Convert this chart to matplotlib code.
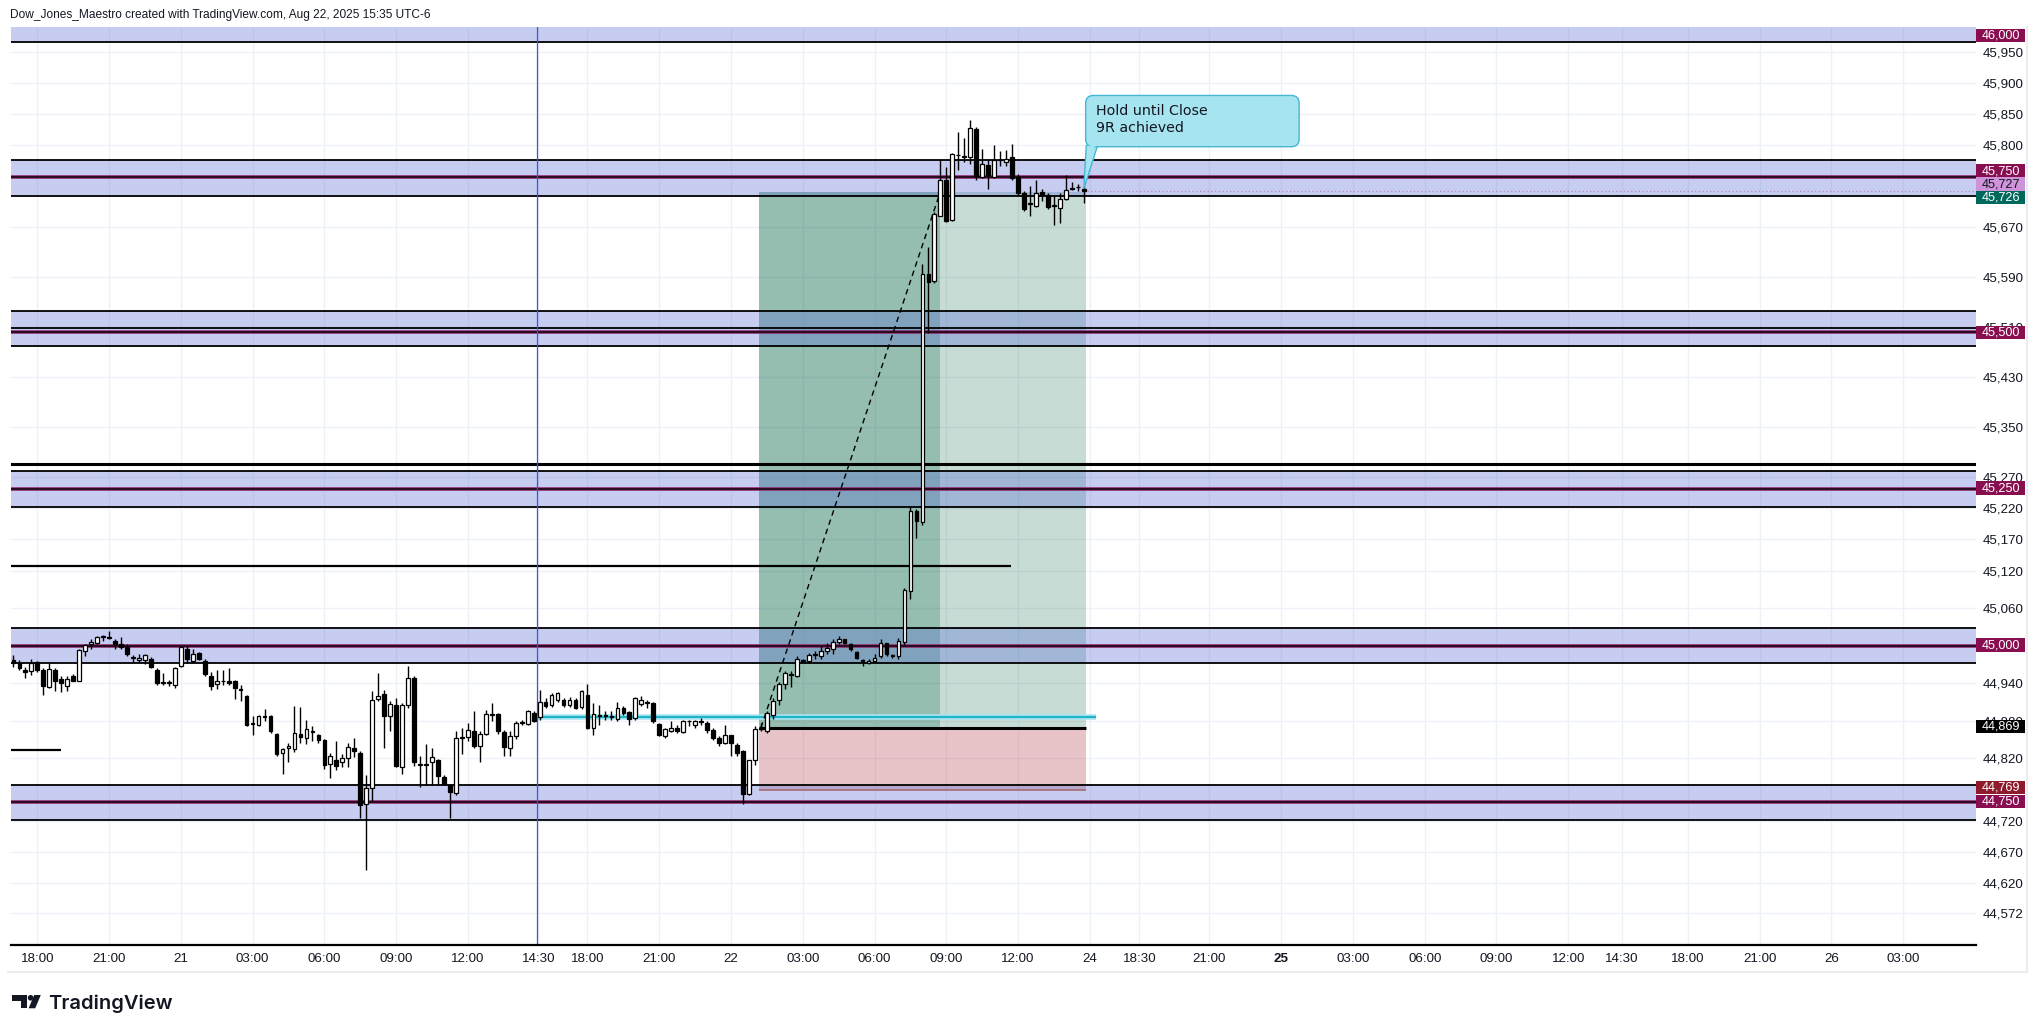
import matplotlib
matplotlib.use("Agg")
import matplotlib.pyplot as plt
import matplotlib.transforms as mtransforms
from matplotlib.patches import Rectangle, Polygon, FancyBboxPatch, Circle
import numpy as np

# ---------------- data (15-min YM candles, bar index 0 = Aug 20 17:00) ----------------
opens = [44977, 44973, 44961, 44959, 44974, 44961, 44934, 44961, 44947, 44935,
         44951, 44944, 44992, 45002, 45005, 45014, 45014, 45007, 45002, 44998,
         44980, 44977, 44977, 44979, 44961, 44940, 44940, 44937, 44968, 44995,
         44976, 44989, 44976, 44952, 44939, 44943, 44944, 44943, 44930, 44920,
         44875, 44873, 44886, 44887, 44859, 44828, 44837, 44835, 44859, 44853,
         44862, 44857, 44849, 44811, 44817, 44814, 44821, 44836, 44829, 44747,
         44773, 44915, 44923, 44887, 44906, 44806, 44905, 44949, 44810, 44811,
         44814, 44817, 44790, 44777, 44765, 44853, 44854, 44864, 44839, 44859,
         44890, 44891, 44862, 44836, 44856, 44877, 44875, 44893, 44886, 44910,
         44905, 44913, 44913, 44905, 44913, 44902, 44921, 44869, 44889, 44890,
         44887, 44883, 44900, 44894, 44884, 44907, 44909, 44909, 44875, 44856,
         44863, 44868, 44862, 44879, 44874, 44878, 44876, 44866, 44853, 44845,
         44857, 44842, 44832, 44763, 44817, 44867, 44863, 44889, 44913, 44938,
         44955, 44952, 44976, 44975, 44985, 44984, 44991, 44995, 45006, 45010,
         45002, 44990, 44976, 44972, 44975, 44983, 45004, 44984, 44983, 45006,
         45087, 45216, 45198, 45594, 45583, 45688, 45745, 45681, 45784, 45782,
         45782, 45827, 45749, 45768, 45749, 45776, 45774, 45782, 45749, 45724,
         45707, 45704, 45725, 45721, 45704, 45700, 45714, 45731, 45733, 45731]
highs = [44985, 44977, 44966, 44978, 44975, 44964, 44972, 44964, 44951, 44951,
         44954, 44995, 45003, 45011, 45016, 45017, 45024, 45011, 45014, 45002,
         44985, 44987, 44987, 44982, 44965, 44956, 44945, 44966, 45000, 45000,
         44995, 44990, 44978, 44958, 44961, 44961, 44964, 44945, 44937, 44922,
         44887, 44890, 44899, 44890, 44861, 44837, 44845, 44903, 44902, 44882,
         44872, 44859, 44851, 44829, 44848, 44827, 44845, 44853, 44832, 44793,
         44928, 44956, 44929, 44911, 44916, 44908, 44968, 44951, 44824, 44843,
         44837, 44819, 44793, 44779, 44864, 44869, 44877, 44895, 44864, 44898,
         44908, 44893, 44866, 44864, 44879, 44882, 44898, 44895, 44929, 44916,
         44925, 44926, 44916, 44918, 44916, 44929, 44939, 44909, 44905, 44895,
         44896, 44910, 44903, 44896, 44918, 44920, 44913, 44910, 44876, 44868,
         44879, 44873, 44881, 44881, 44881, 44884, 44879, 44868, 44855, 44873,
         44858, 44845, 44834, 44818, 44871, 44876, 44896, 44916, 44942, 44959,
         44959, 44984, 44979, 44988, 44992, 45000, 45004, 45010, 45016, 45011,
         45004, 44992, 44979, 44979, 44987, 45010, 45005, 44987, 45013, 45093,
         45224, 45218, 45610, 45638, 45693, 45776, 45765, 45788, 45821, 45812,
         45840, 45829, 45794, 45779, 45800, 45791, 45792, 45803, 45754, 45727,
         45736, 45745, 45730, 45724, 45719, 45724, 45753, 45742, 45739, 45736]
lows = [44966, 44961, 44948, 44953, 44958, 44921, 44933, 44928, 44926, 44927,
        44943, 44943, 44983, 44995, 45002, 45008, 45010, 44994, 44995, 44983,
        44974, 44974, 44970, 44964, 44937, 44937, 44935, 44933, 44966, 44972,
        44973, 44977, 44951, 44929, 44931, 44937, 44937, 44915, 44912, 44872,
        44858, 44872, 44879, 44861, 44824, 44795, 44814, 44830, 44845, 44843,
        44848, 44845, 44803, 44789, 44801, 44806, 44806, 44822, 44724, 44642,
        44751, 44911, 44837, 44864, 44806, 44795, 44901, 44808, 44774, 44777,
        44777, 44777, 44777, 44724, 44761, 44827, 44848, 44837, 44814, 44858,
        44879, 44859, 44824, 44823, 44851, 44874, 44873, 44878, 44881, 44900,
        44902, 44910, 44902, 44902, 44899, 44899, 44867, 44858, 44874, 44882,
        44882, 44880, 44889, 44874, 44881, 44903, 44901, 44876, 44855, 44853,
        44862, 44860, 44860, 44871, 44868, 44874, 44861, 44850, 44840, 44843,
        44824, 44824, 44747, 44761, 44810, 44863, 44860, 44883, 44905, 44931,
        44934, 44950, 44974, 44973, 44978, 44978, 44987, 44987, 45003, 45003,
        44992, 44978, 44968, 44971, 44974, 44980, 44984, 44981, 44978, 45001,
        45075, 45172, 45193, 45500, 45580, 45687, 45678, 45680, 45761, 45773,
        45770, 45745, 45748, 45730, 45748, 45767, 45767, 45745, 45721, 45696,
        45688, 45702, 45711, 45699, 45673, 45676, 45713, 45729, 45727, 45708]
closes = [44973, 44965, 44958, 44973, 44961, 44935, 44962, 44943, 44940, 44947,
          44944, 44993, 45001, 45006, 45014, 45014, 45013, 45002, 44998, 44986,
          44980, 44980, 44985, 44966, 44940, 44940, 44941, 44965, 44998, 44978,
          44986, 44979, 44954, 44936, 44943, 44943, 44940, 44933, 44929, 44873,
          44875, 44887, 44886, 44863, 44827, 44835, 44839, 44861, 44854, 44867,
          44862, 44849, 44809, 44824, 44808, 44821, 44838, 44831, 44745, 44772,
          44914, 44920, 44887, 44907, 44808, 44906, 44949, 44814, 44810, 44809,
          44822, 44791, 44779, 44766, 44853, 44853, 44865, 44840, 44859, 44891,
          44890, 44864, 44838, 44856, 44877, 44877, 44895, 44879, 44910, 44903,
          44922, 44924, 44905, 44913, 44901, 44927, 44869, 44891, 44888, 44887,
          44886, 44900, 44892, 44883, 44917, 44914, 44909, 44879, 44858, 44867,
          44868, 44863, 44879, 44879, 44879, 44878, 44866, 44853, 44845, 44857,
          44845, 44829, 44763, 44817, 44867, 44867, 44892, 44911, 44939, 44957,
          44953, 44979, 44977, 44985, 44987, 44992, 44997, 45006, 45011, 45004,
          44994, 44980, 44976, 44976, 44981, 45005, 44986, 44984, 45008, 45089,
          45216, 45199, 45594, 45581, 45690, 45745, 45680, 45786, 45785, 45782,
          45828, 45751, 45770, 45753, 45776, 45776, 45779, 45748, 45724, 45699,
          45707, 45724, 45721, 45702, 45704, 45714, 45729, 45731, 45733, 45727]

# price axis
y_ticks = [45950, 45900, 45850, 45800, 45670, 45590, 45510, 45430, 45350, 45270,
           45220, 45170, 45120, 45060, 44940, 44880, 44820, 44720, 44670, 44620, 44572]
y_min, y_max = 44521.4, 45989.0

# time axis (bar-index positions of the labels)
x_tick_pos = [4, 16, 28, 40, 52, 64, 76, 87.8, 96, 108, 120, 132, 144, 156, 168,
              180, 188.3, 200, 212, 224, 236, 248, 260, 269, 280, 292, 304, 316]
x_tick_labels = ["18:00", "21:00", "21", "03:00", "06:00", "09:00", "12:00", "14:30",
                 "18:00", "21:00", "22", "03:00", "06:00", "09:00", "12:00", "24",
                 "18:30", "21:00", "25", "03:00", "06:00", "09:00", "12:00", "14:30",
                 "18:00", "21:00", "26", "03:00"]
x_min, x_max = -0.45, 328.1

# support / resistance zones: (low, high, mid lines)
zones = [(45966, 46030, []),
         (45720, 45777, [45750]),
         (45480, 45536, [45501]),
         (45222, 45279, [45251]),
         (44972, 45028, [45000]),
         (44722, 44778, [44750])]
extra_black_levels = [45508]          # thin black line inside 45,500 zone
thick_level = 45291                   # full-width thick line
partial_lines = [(45127, 166.8), (44833, 8.0)]   # (price, end bar)
vline_bar = 87.6
cyan_level, cyan_start, cyan_end = 44886, 87.6, 181.0

# long position tool
entry, stop, target = 44869, 44769, 45726
trade_start, trade_mid, trade_end = 124.6, 155.0, 179.3

# price badges: (label, position, bg, fg)
badges = [("46,000", 45976, "#880E4F", "white"),
          ("45,750", 45759, "#880E4F", "white"),
          ("45,727", 45738, "#CE93D8", "#131722"),
          ("45,726", 45717, "#00695C", "white"),
          ("45,500", 45501, "#880E4F", "white"),
          ("45,250", 45252, "#880E4F", "white"),
          ("45,000", 45001, "#880E4F", "white"),
          ("44,869", 44871, "#000000", "white"),
          ("44,769", 44773, "#8E1B2C", "white"),
          ("44,750", 44751, "#880E4F", "white")]
last_price = 45727

note_text = "Hold until Close\n9R achieved"
note_box = (179.3, 45798, 215.0, 45880)   # x0, y0, x1, y1
note_tip = (179.0, 45731)

# ---------------- figure ----------------
W, H = 2039, 1033
fig = plt.figure(figsize=(W / 100, H / 100), dpi=100)
fig.patch.set_facecolor("white")
ax_l, ax_r, ax_t, ax_b = 10.7, 1975.5, 27.3, 945.0
ax = fig.add_axes([ax_l / W, 1 - ax_b / H, (ax_r - ax_l) / W, (ax_b - ax_t) / H])
ax.set_facecolor("white")
ax.set_xlim(x_min, x_max)
ax.set_ylim(y_min, y_max)

TXT = "#131722"
tick_font = ["Liberation Sans", "DejaVu Sans"]

# grid
ax.set_axisbelow(True)
ax.grid(True, color="#EEF1F8", lw=1.0)

# zones
for lo, hi, mids in zones:
    ax.axhspan(lo, hi, facecolor="#5C6FD6", alpha=0.34, lw=0, zorder=1.5)
    ax.axhline(lo, color="black", lw=1.3, zorder=2)
    ax.axhline(hi, color="black", lw=1.3, zorder=2)
    for m in mids:
        ax.axhline(m, color="#8E2A6E", lw=2.6, zorder=2)
        ax.axhline(m, color="#1a0612", lw=1.2, zorder=2.1)
for lv in extra_black_levels:
    ax.axhline(lv, color="black", lw=1.3, zorder=2)
ax.axhline(thick_level, color="black", lw=2.2, zorder=2)
for lv, xe in partial_lines:
    ax.hlines(lv, x_min, xe, color="black", lw=1.6, zorder=2)

# position tool
ax.add_patch(Rectangle((trade_start, entry), trade_end - trade_start, target - entry,
                       facecolor=(40 / 255, 120 / 255, 95 / 255), alpha=0.26, lw=0, zorder=1))
ax.add_patch(Rectangle((trade_start, entry), trade_mid - trade_start, target - entry,
                       facecolor=(40 / 255, 120 / 255, 95 / 255), alpha=0.31, lw=0, zorder=1))
ax.add_patch(Rectangle((trade_start, stop), trade_end - trade_start, entry - stop,
                       facecolor=(180 / 255, 60 / 255, 75 / 255), alpha=0.30, lw=0, zorder=1))
ax.hlines(stop, trade_start, trade_end, color="#a56a74", lw=1.2, zorder=2.2)
ax.hlines(entry, trade_start, trade_end, color="black", lw=2.2, zorder=3)
ax.plot([trade_start + 0.4, trade_mid], [entry, target], ls=(0, (4, 3)), color="black",
        lw=1.0, zorder=3.5)

# cyan line and vertical line
ax.hlines(cyan_level, cyan_start, cyan_end, color="#a8e6f0", lw=4.0, zorder=3)
ax.hlines(cyan_level, cyan_start, cyan_end, color="#22b3c9", lw=1.6, zorder=3.1)
ax.axvline(vline_bar, color="#2f5fd0", lw=0.9, zorder=3)

# candles
o = np.array(opens, float); h = np.array(highs, float)
l = np.array(lows, float); c = np.array(closes, float)
idx = np.arange(len(o))
up = c >= o
ax.vlines(idx, l, h, color="black", lw=1.0, zorder=4)
bottom = np.minimum(o, c)
height = np.maximum(np.abs(c - o), 1.2)
ax.bar(idx[up], height[up], bottom=bottom[up], width=0.62, color="white",
       edgecolor="black", lw=0.9, zorder=5)
ax.bar(idx[~up], height[~up], bottom=bottom[~up], width=0.62, color="black",
       edgecolor="black", lw=0.9, zorder=5)

# last price dotted line
ax.hlines(last_price, len(o) - 0.5, x_max, color="#b48abf", lw=0.9, ls=(0, (1, 2)), zorder=3)

# callout
x0, y0, x1, y1 = note_box
ax.add_patch(Polygon([(x0 + 0.1, y0 + 2), (x0 + 2.0, y0 + 2), note_tip], closed=True,
                     facecolor="#A6E4EF", edgecolor="#45B7D4", lw=1.0, zorder=6))
ax.add_patch(FancyBboxPatch((x0, y0), x1 - x0, y1 - y0,
                            boxstyle="round,pad=0,rounding_size=1.3", mutation_aspect=9.6,
                            facecolor="#A6E4EF", edgecolor="#45B7D4", lw=1.0, zorder=6))
ax.add_patch(Polygon([(x0 + 0.25, y0 + 1.5), (x0 + 1.85, y0 + 1.5), (x0 + 0.3, y0 - 6)],
                     closed=True, facecolor="#A6E4EF", edgecolor="none", zorder=6.5))
ax.text(x0 + 1.8, y1 - 14, note_text, fontsize=10.3, color="#131722", va="top", ha="left",
        linespacing=1.22, family="DejaVu Sans", zorder=7)

# axes styling
for s in ["top", "left", "right"]:
    ax.spines[s].set_visible(False)
ax.spines["bottom"].set_color("black")
ax.spines["bottom"].set_linewidth(1.6)
ax.spines["bottom"].set_zorder(8)

ax.yaxis.tick_right()
ax.set_yticks(y_ticks)
ax.set_yticklabels([f"{v:,}" for v in y_ticks])
ax.tick_params(axis="y", length=0, pad=5.0, labelsize=9.6, labelcolor=TXT)
ax.set_xticks(x_tick_pos)
ax.set_xticklabels(x_tick_labels)
ax.tick_params(axis="x", length=0, pad=6, labelsize=9.6, labelcolor=TXT)
for lab in ax.get_xticklabels() + ax.get_yticklabels():
    lab.set_family(tick_font)
for lab in ax.get_xticklabels():
    if lab.get_text() == "25":
        lab.set_fontweight("bold")

# badges on price axis
trans = mtransforms.blended_transform_factory(ax.transAxes, ax.transData)
bw = 49 / (ax_r - ax_l)
bx = (1976 - ax_l) / (ax_r - ax_l)
hh = 10.8
for lab, yv, bg, fg in badges:
    ax.add_patch(Rectangle((bx, yv - hh), bw, 2 * hh, transform=trans, clip_on=False,
                           facecolor=bg, edgecolor="none", zorder=20))
    ax.text(bx + bw / 2, yv, lab, transform=trans, ha="center", va="center",
            color=fg, fontsize=9.1, family=tick_font, zorder=21, clip_on=False)

# overlay for header, frame and logo (pixel coordinates)
ov = fig.add_axes([0, 0, 1, 1], facecolor="none")
ov.set_xlim(0, W); ov.set_ylim(H, 0); ov.axis("off")
ov.text(10, 15, "Dow_Jones_Maestro created with TradingView.com, Aug 22, 2025 15:35 UTC-6",
        fontsize=8.6, color=TXT, va="center", ha="left", family=tick_font)
ov.plot([2027, 2027], [27, 972], color="#ECECEC", lw=1.5)
ov.plot([8, 2027], [972, 972], color="#ECECEC", lw=1.5)
# TradingView logo
ov.add_patch(Rectangle((11.7, 995), 15.0, 5.8, facecolor="#131722", lw=0))
ov.add_patch(Rectangle((20.8, 995), 5.9, 13.3, facecolor="#131722", lw=0))
ov.add_patch(Circle((30.6, 997.8), 2.8, facecolor="#131722", lw=0))
ov.add_patch(Polygon([(34.2, 995), (40.8, 995), (35.2, 1008.3), (28.6, 1008.3)],
                     closed=True, facecolor="#131722", lw=0))
ov.text(48.5, 1008.6, "TradingView", fontsize=14.5, color="#131722", va="baseline",
        ha="left", family=["Inter", "DejaVu Sans"], fontweight="semibold")

fig.savefig("out.png", dpi=100, facecolor="white")
